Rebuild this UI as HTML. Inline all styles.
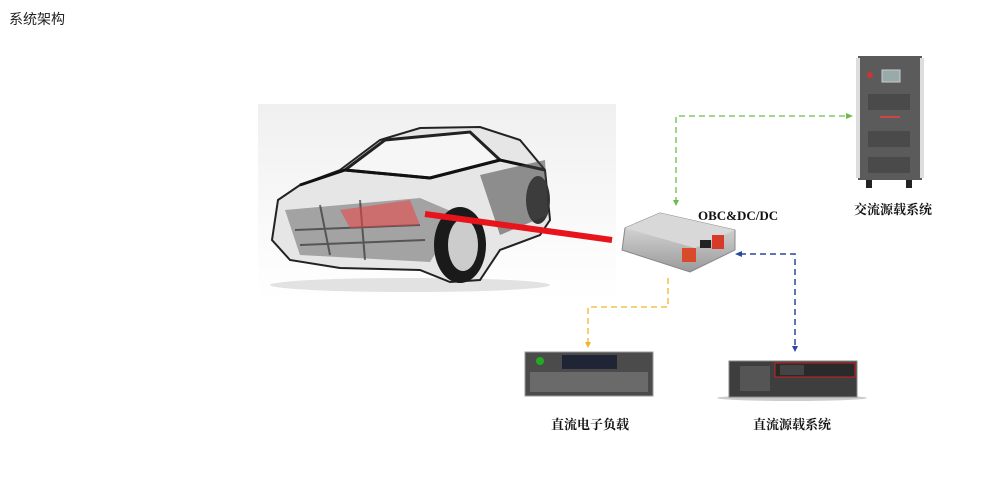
<!DOCTYPE html>
<html><head><meta charset="utf-8"><style>
html,body{margin:0;padding:0;background:#fff;width:1000px;height:480px;overflow:hidden}
.t{position:absolute;left:9px;top:9px;font:14px "Liberation Sans","Noto Sans CJK SC",sans-serif;color:#222}
svg{position:absolute;left:0;top:0}
</style></head><body>
<div class="t">系统架构</div>
<svg width="1000" height="480" viewBox="0 0 1000 480">
<defs>
<linearGradient id="bg" x1="0" y1="0" x2="0" y2="1"><stop offset="0" stop-color="#f0f0f0"/><stop offset="1" stop-color="#fff"/></linearGradient>
<linearGradient id="sil" x1="0" y1="0" x2="0" y2="1"><stop offset="0" stop-color="#e4e4e4"/><stop offset="1" stop-color="#9a9a9a"/></linearGradient>
</defs>
<rect x="258" y="104" width="358" height="196" fill="url(#bg)"/>
<!-- car -->
<ellipse cx="410" cy="285" rx="140" ry="7" fill="#e2e2e2"/>
<path d="M272,240 L278,200 L300,185 L340,170 L380,140 L420,128 L480,127 L520,140 L545,170 L550,220 L540,235 L500,250 L480,280 L450,282 L420,270 L340,268 L290,260 Z" fill="#e6e6e6" stroke="#222" stroke-width="2"/>
<path d="M345,170 L385,140 L470,132 L500,160 L430,178 Z" fill="#f6f6f6" stroke="#222" stroke-width="3"/>
<path d="M300,185 L345,170 L430,178 L500,160 L545,170" fill="none" stroke="#111" stroke-width="3"/>
<path d="M285,210 L420,198 L460,215 L430,262 L300,255 Z" fill="#777" opacity=".6"/>
<path d="M295,230 L420,225 M300,245 L425,240 M320,205 L330,255 M360,200 L365,260" stroke="#222" stroke-width="2" opacity=".6"/>
<path d="M340,210 L410,200 L420,225 L350,228 Z" fill="#e44" opacity=".55"/>
<ellipse cx="460" cy="245" rx="26" ry="38" fill="#1a1a1a"/>
<ellipse cx="463" cy="245" rx="15" ry="26" fill="#ccc"/>
<ellipse cx="538" cy="200" rx="12" ry="24" fill="#333"/>
<path d="M480,175 L545,160 L548,215 L500,235 Z" fill="#444" opacity=".55"/>
<line x1="425" y1="214" x2="612" y2="240" stroke="#e8141b" stroke-width="6"/>
<!-- OBC -->
<path d="M625,228 L660,213 L735,230 L735,250 L690,272 L622,250 Z" fill="url(#sil)" stroke="#888"/>
<path d="M625,228 L660,213 L735,230 L695,248 Z" fill="#d8d8d8"/>
<rect x="682" y="248" width="14" height="14" fill="#d84a2a"/>
<rect x="712" y="235" width="12" height="14" fill="#d83a2a"/>
<rect x="700" y="240" width="11" height="8" fill="#222"/>
<text x="698" y="220" font-family="Liberation Serif,serif" font-weight="bold" font-size="13" fill="#111">OBC&amp;DC/DC</text>
<!-- AC -->
<rect x="858" y="56" width="64" height="124" fill="#5b5b5b"/>
<rect x="856" y="58" width="4" height="120" fill="#ddd"/><rect x="920" y="58" width="4" height="120" fill="#ddd"/>
<rect x="882" y="70" width="18" height="12" fill="#9aa" stroke="#ccc"/>
<circle cx="870" cy="75" r="3" fill="#c33"/>
<rect x="868" y="94" width="42" height="16" fill="#4a4a4a"/>
<rect x="868" y="131" width="42" height="16" fill="#4a4a4a"/>
<rect x="868" y="157" width="42" height="16" fill="#4a4a4a"/>
<rect x="880" y="116" width="20" height="2" fill="#c44"/>
<rect x="866" y="180" width="6" height="8" fill="#222"/><rect x="906" y="180" width="6" height="8" fill="#222"/>
<text x="893" y="214" text-anchor="middle" font-family="Noto Serif CJK SC,serif" font-weight="bold" font-size="13" fill="#111">交流源载系统</text>
<polyline points="676,203 676,116 847,116" fill="none" stroke="#6cbc4a" stroke-width="1.3" stroke-dasharray="6,4"/>
<path d="M853,116 L846,113 L846,119Z" fill="#6cbc4a"/><path d="M676,206 L673,200 L679,200Z" fill="#6cbc4a"/>
<polyline points="668,278 668,307 588,307 588,343" fill="none" stroke="#f0b52a" stroke-width="1.3" stroke-dasharray="6,4"/>
<path d="M588,348 L585,342 L591,342Z" fill="#f0b52a"/>
<polyline points="740,254 795,254 795,347" fill="none" stroke="#2849a0" stroke-width="1.5" stroke-dasharray="6,4"/>
<path d="M735,254 L742,251 L742,257Z" fill="#2849a0"/><path d="M795,352 L792,346 L798,346Z" fill="#2849a0"/>
<!-- DC load -->
<rect x="525" y="352" width="128" height="44" fill="#4b4b4b" stroke="#999"/>
<rect x="562" y="355" width="55" height="14" fill="#1f2535"/>
<circle cx="540" cy="361" r="4" fill="#2a2"/>
<rect x="530" y="372" width="118" height="20" fill="#6a6a6a"/>
<text x="590" y="429" text-anchor="middle" font-family="Noto Serif CJK SC,serif" font-weight="bold" font-size="13" fill="#111">直流电子负载</text>
<!-- DC source -->
<ellipse cx="792" cy="398" rx="75" ry="3" fill="#ccc"/>
<rect x="729" y="361" width="128" height="36" fill="#3e3e3e" stroke="#888"/>
<rect x="775" y="363" width="80" height="14" fill="#2a2a2a" stroke="#c22"/>
<rect x="780" y="365" width="24" height="10" fill="#444"/>
<rect x="740" y="366" width="30" height="25" fill="#555"/>
<text x="792" y="429" text-anchor="middle" font-family="Noto Serif CJK SC,serif" font-weight="bold" font-size="13" fill="#111">直流源载系统</text>
</svg>
</body></html>
